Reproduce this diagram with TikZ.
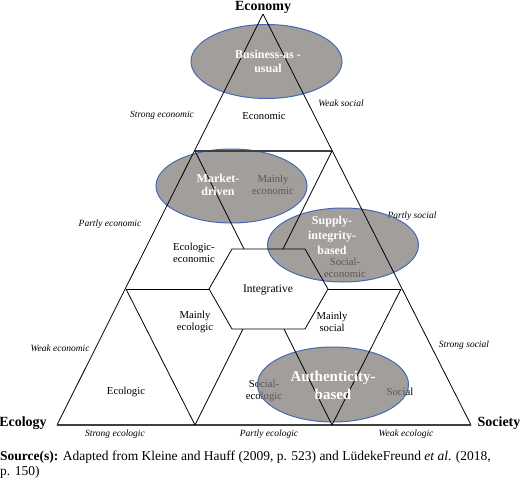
\documentclass[tikz,border=0pt]{standalone}
\usepackage{fontspec}
\setmainfont{Liberation Serif}
\usetikzlibrary{shapes.geometric}
\definecolor{ellfill}{RGB}{125,121,118}
\definecolor{ellline}{RGB}{68,106,180}
\tikzset{
  tline/.style={line width=0.8pt, black},
  heavyline/.style={line width=1.2pt, black!75},
  oval/.style={ellipse, draw=ellline, line width=1pt, fill=ellfill, fill opacity=0.72, minimum width=151pt, minimum height=74pt, inner sep=0pt},
  ovallabel/.style={font=\fontsize{12}{14}\selectfont\bfseries, text=white, align=center, inner sep=0pt},
  region/.style={font=\fontsize{10.7}{11.5}\selectfont, align=center, inner sep=0pt},
  edgelabel/.style={font=\fontsize{9.5}{11}\selectfont\itshape, inner sep=0pt},
  pole/.style={font=\fontsize{14}{16}\selectfont\bfseries, inner sep=0pt},
}
\begin{document}
\begin{tikzpicture}[x=1pt,y=-1pt]
\useasboundingbox (0,0) rectangle (520,482);
% key points
\coordinate (A) at (263,14);
\coordinate (L) at (57,425);
\coordinate (R) at (471,425);
\coordinate (Lm) at (126,289);
\coordinate (Rm) at (401,289);
\coordinate (T1) at (195,151);
\coordinate (T2) at (332,151);
\coordinate (B1) at (195,425);
\coordinate (B2) at (332,425);
% hexagon corners
\coordinate (H1) at (209,289);
\coordinate (H2) at (232,249);
\coordinate (H3) at (305,249);
\coordinate (H4) at (328,289);
\coordinate (H5) at (305,329);
\coordinate (H6) at (232,329);
% line ends at hexagon
\coordinate (P1) at (244,249);
\coordinate (P2) at (283,249);
\coordinate (P3) at (284,329);
\coordinate (P4) at (243,329);

% texts under the ovals
\node[pole] (economy) at (263,7) {Economy};
\node[pole] (ecology) at (23,423) {Ecology};
\node[pole] (society) at (499,423) {Society};

\node[edgelabel] (se) at (162,115) {Strong economic};
\node[edgelabel] (ws) at (341,103) {Weak social};
\node[edgelabel] (pe) at (110,224) {Partly economic};
\node[edgelabel] (ps) at (412,216) {Partly social};
\node[edgelabel] (we) at (60,348) {Weak economic};
\node[edgelabel] (ss) at (464,345) {Strong social};
\node[edgelabel] (sec) at (115,434) {Strong ecologic};
\node[edgelabel] (pec) at (269,434) {Partly ecologic};
\node[edgelabel] (wec) at (406,434) {Weak ecologic};

\node[region] (econ) at (264,116) {Economic};
\node[region] (mecon) at (273,185) {Mainly\\economic};
\node[region] (ecoeco) at (194,253) {Ecologic-\\economic};
\node[region] (soceco) at (345,268) {Social-\\economic};
\node[region, font=\fontsize{11.5}{12}\selectfont] (integ) at (268,290) {Integrative};
\node[region] (mecol) at (195,322) {Mainly\\ecologic};
\node[region] (msoc) at (332,322) {Mainly\\social};
\node[region] (ecol) at (126,392) {Ecologic};
\node[region] (socecol) at (264,391) {Social-\\ecologic};
\node[region] (soc) at (400,392) {Social};

% ovals
\node[oval] (bau) at (266.5,61.5) {};
\node[oval] (md) at (231.5,186) {};
\node[oval] (sib) at (343,245) {};
\node[oval, minimum height=75pt] (ab) at (333,384.5) {};

% triangle grid
\draw[tline] (A) -- (L);
\draw[tline] (A) -- (R);
\draw[heavyline] (L) -- (R);
\draw[heavyline] (T1) -- (T2);
\draw[tline] (Lm) -- (H1);
\draw[tline] (H4) -- (Rm);
\draw[tline] (T1) -- (P1);
\draw[tline] (P3) -- (B2);
\draw[tline] (T2) -- (P2);
\draw[tline] (P4) -- (B1);
\draw[tline] (Lm) -- (B1);
\draw[tline] (Rm) -- (B2);
\draw[tline] (H1) -- (H2) -- (H3) -- (H4) -- (H5) -- (H6) -- cycle;

% oval labels
\node[ovallabel] (baut) at (268,61) {Business-as -\\usual};
\node[ovallabel, font=\fontsize{12}{12.5}\selectfont\bfseries] (mdt) at (218,185) {Market-\\driven};
\node[ovallabel, font=\fontsize{12}{15}\selectfont\bfseries] (sibt) at (332,235) {Supply-\\integrity-\\based};
\node[ovallabel, font=\fontsize{15}{18}\selectfont\bfseries] (abt) at (333,385) {Authenticity-\\based};

% source
\node[anchor=west, inner sep=0pt, font=\fontsize{13.5}{15.5}\selectfont, align=left] (src) at (0,464.5)
  {\textbf{Source(s):} Adapted from Kleine and Hauff (2009, p. 523) and LüdekeFreund \textit{et al}. (2018,\\p. 150)};
\end{tikzpicture}
\end{document}
